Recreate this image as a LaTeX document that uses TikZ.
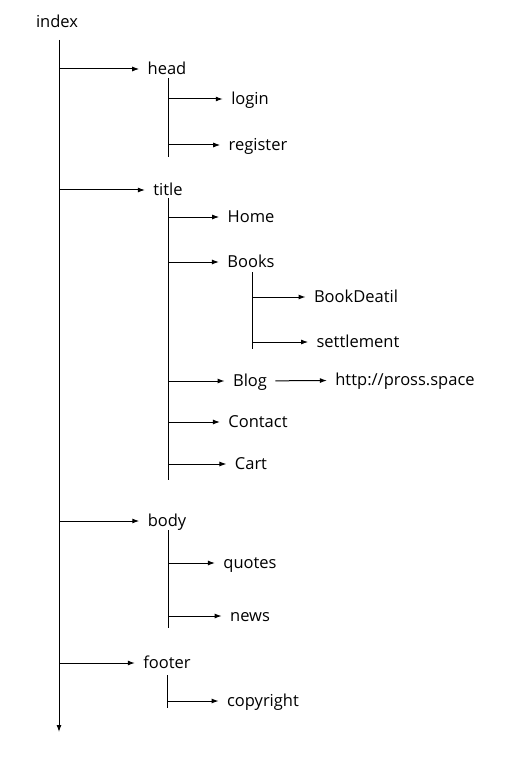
\documentclass[tikz,border=0pt]{standalone}
\usepackage{fontspec}
\setmainfont{Open Sans}
\usetikzlibrary{arrows.meta}
\tikzstyle{item} = [inner xsep=8pt, inner ysep=2pt, text height=12pt, text depth=1pt, font=\fontsize{16.5}{19}\selectfont]
\tikzstyle{tip} = [-{Latex[length=7pt,width=5pt]}]
\tikzstyle{branch} = [line width=1pt]
\begin{document}
\begin{tikzpicture}[x=1pt, y=-1pt, line width=1pt]
	\useasboundingbox (0,0) rectangle (511,759);
	% tree nodes
	\node[item](index) at (57,22) {index};
	\node[item](head) at (167,69) {head};
	\node[item](login) at (250,99) {login};
	\node[item](register) at (258,145) {register};
	\node[item](title) at (168,190) {title};
	\node[item](home) at (251,217) {Home};
	\node[item](books) at (251,262) {Books};
	\node[item](bookdeatil) at (356,297) {BookDeatil};
	\node[item](settlement) at (358,342) {settlement};
	\node[item](blog) at (250,381) {Blog};
	\node[item](http) at (405,380) {http://pross.space};
	\node[item](contact) at (258,422) {Contact};
	\node[item](cart) at (251,464) {Cart};
	\node[item](body) at (167,521) {body};
	\node[item](quotes) at (250,563) {quotes};
	\node[item](news) at (250,616) {news};
	\node[item](footer) at (167,663) {footer};
	\node[item](copyright) at (263,701) {copyright};
	% trunk and stems
	\coordinate (trunk) at (59,40);
	\coordinate (trunkend) at (59,732);
	\coordinate (headtop) at (168,78);
	\coordinate (headend) at (168,157);
	\coordinate (titletop) at (168,198);
	\coordinate (titleend) at (168,480);
	\coordinate (bookstop) at (252,272);
	\coordinate (booksend) at (252,349);
	\coordinate (bodytop) at (168,530);
	\coordinate (bodyend) at (168,628);
	\coordinate (footertop) at (167,675);
	\coordinate (footerend) at (167,708);
	\draw[tip] (trunk) -- (trunkend);
	\draw[branch] (headtop) -- (headend);
	\draw[branch] (titletop) -- (titleend);
	\draw[branch] (bookstop) -- (booksend);
	\draw[branch] (bodytop) -- (bodyend);
	\draw[branch] (footertop) -- (footerend);
	% arrows
	\draw[tip] (trunk |- head) -- (head);
	\draw[tip] (trunk |- title) -- (title);
	\draw[tip] (trunk |- body) -- (body);
	\draw[tip] (trunk |- footer) -- (footer);
	\draw[tip] (headtop |- login) -- (login);
	\draw[tip] (headtop |- register) -- (register);
	\draw[tip] (titletop |- home) -- (home);
	\draw[tip] (titletop |- books) -- (books);
	\draw[tip] (titletop |- blog) -- (blog);
	\draw[tip] (titletop |- contact) -- (contact);
	\draw[tip] (titletop |- cart) -- (cart);
	\draw[tip] (bookstop |- bookdeatil) -- (bookdeatil);
	\draw[tip] (bookstop |- settlement) -- (settlement);
	\draw[tip] (blog) -- (http);
	\draw[tip] (bodytop |- quotes) -- (quotes);
	\draw[tip] (bodytop |- news) -- (news);
	\draw[tip] (footertop |- copyright) -- (copyright);
\end{tikzpicture}
\end{document}
